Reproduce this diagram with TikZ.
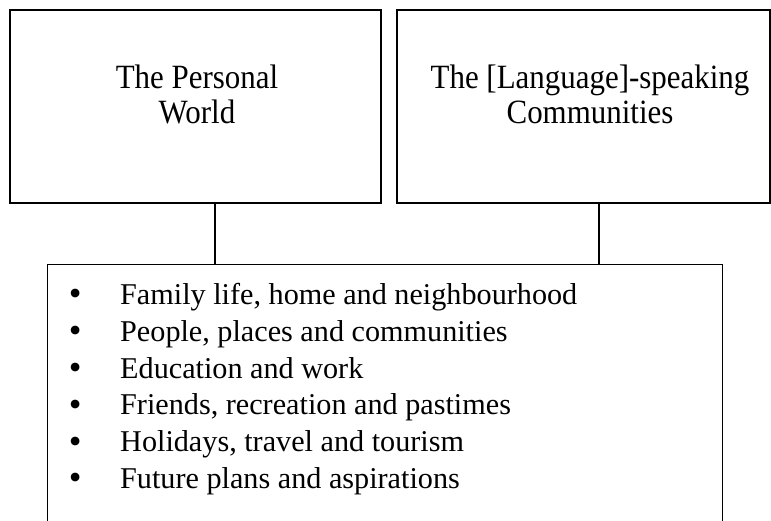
\documentclass[tikz,border=0pt]{standalone}
\usepackage{fontspec}
\setmainfont{Liberation Serif}
\newfontfamily\titlefont[FakeStretch=0.91]{Liberation Serif}
\usetikzlibrary{positioning}

\newcommand{\topicitem}{\makebox[20pt]{\raisebox{-1.5pt}{\scalebox{1.2}{\textbullet}}}\hspace{35pt}}

\begin{document}
\begin{tikzpicture}[x=1pt, y=-1pt,
  box/.style={draw, line width=1.3pt, rectangle, inner sep=0pt},
  title/.style={font=\titlefont\fontsize{34}{35}\selectfont, align=center, inner sep=0pt},
  topics/.style={font=\fontsize{30.2}{36.8}\selectfont, align=left, inner sep=0pt}]

\useasboundingbox (0,0) rectangle (771,521);
\clip (0,0) rectangle (771,521);

% boxes on top
\node[box, minimum width=371pt, minimum height=193pt] (personal) at (195.5,106.5) {};
\node[box, minimum width=373pt, minimum height=193pt] (community) at (583.5,106.5) {};

\node[title, below=55pt of personal.north, xshift=1.5pt] (personaltxt) {The Personal\\World};
\node[title, below=55pt of community.north, xshift=6.5pt] (communitytxt) {The [Language]-speaking\\Communities};

% box with the topics (runs off the bottom)
\node[box, anchor=north west, minimum width=675pt, minimum height=290pt] (themes) at (47,264) {};

\node[topics, anchor=north west] (themelist) at (65,283) {%
  \topicitem Family life, home and neighbourhood\\
  \topicitem People, places and communities\\
  \topicitem Education and work\\
  \topicitem Friends, recreation and pastimes\\
  \topicitem Holidays, travel and tourism\\
  \topicitem Future plans and aspirations};

% links
\draw[line width=1.3pt] ([xshift=19.5pt]personal.south) -- ([xshift=19.5pt]personal.south |- themes.north);
\draw[line width=1.3pt] ([xshift=15.5pt]community.south) -- ([xshift=15.5pt]community.south |- themes.north);

\end{tikzpicture}
\end{document}
